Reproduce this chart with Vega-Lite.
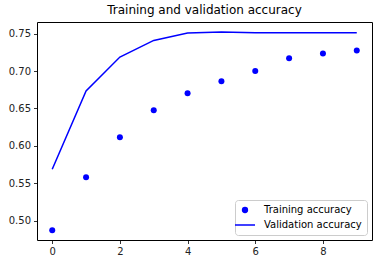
{
  "$schema": "https://vega.github.io/schema/vega-lite/v6.json",
  "width": 335,
  "height": 218,
  "autosize": "none",
  "padding": {"left": 37, "top": 22, "right": 9, "bottom": 24},
  "background": "white",
  "title": {"text": "Training and validation accuracy", "fontSize": 12, "font": "DejaVu Sans", "fontWeight": "normal", "color": "black", "offset": 5},
  "config": {
    "view": {"stroke": "black", "strokeWidth": 1},
    "axis": {"grid": false, "domain": false, "tickColor": "black", "tickSize": 3.5, "tickWidth": 0.8, "labelFont": "DejaVu Sans", "labelFontSize": 10, "labelColor": "#222222", "labelPadding": 3, "title": null}
  },
  "data": {"values": [
    {"epoch": 0, "series": "Training accuracy", "acc": 0.4872},
    {"epoch": 1, "series": "Training accuracy", "acc": 0.558},
    {"epoch": 2, "series": "Training accuracy", "acc": 0.6115},
    {"epoch": 3, "series": "Training accuracy", "acc": 0.6476},
    {"epoch": 4, "series": "Training accuracy", "acc": 0.6703},
    {"epoch": 5, "series": "Training accuracy", "acc": 0.6864},
    {"epoch": 6, "series": "Training accuracy", "acc": 0.700},
    {"epoch": 7, "series": "Training accuracy", "acc": 0.717},
    {"epoch": 8, "series": "Training accuracy", "acc": 0.7235},
    {"epoch": 9, "series": "Training accuracy", "acc": 0.7275},
    {"epoch": 0, "series": "Validation accuracy", "acc": 0.5687},
    {"epoch": 1, "series": "Validation accuracy", "acc": 0.6734},
    {"epoch": 2, "series": "Validation accuracy", "acc": 0.7188},
    {"epoch": 3, "series": "Validation accuracy", "acc": 0.741},
    {"epoch": 4, "series": "Validation accuracy", "acc": 0.7509},
    {"epoch": 5, "series": "Validation accuracy", "acc": 0.7522},
    {"epoch": 6, "series": "Validation accuracy", "acc": 0.7512},
    {"epoch": 7, "series": "Validation accuracy", "acc": 0.7511},
    {"epoch": 8, "series": "Validation accuracy", "acc": 0.7511},
    {"epoch": 9, "series": "Validation accuracy", "acc": 0.7511}
  ]},
  "encoding": {
    "x": {"field": "epoch", "type": "quantitative", "scale": {"domain": [-0.45, 9.45], "nice": false, "zero": false}, "axis": {"values": [0, 2, 4, 6, 8], "format": "d"}},
    "y": {"field": "acc", "type": "quantitative", "scale": {"domain": [0.4742, 0.7656], "nice": false, "zero": false}, "axis": {"values": [0.5, 0.55, 0.6, 0.65, 0.7, 0.75], "format": ".2f"}},
    "color": {"field": "series", "type": "nominal", "scale": {"domain": ["Training accuracy", "Validation accuracy"], "range": ["#0000ff", "#0000ff"]},
      "legend": {"title": null, "orient": "bottom-right", "offset": 5, "padding": 5, "strokeColor": "#cccccc", "fillColor": "rgba(255,255,255,0.8)", "cornerRadius": 3, "labelFont": "DejaVu Sans", "labelFontSize": 10, "labelColor": "black", "rowPadding": 5, "labelOffset": 14,
        "encode": {"symbols": {"update": {"shape": {"signal": "datum.value === 'Training accuracy' ? 'circle' : 'stroke'"}, "size": {"signal": "datum.value === 'Training accuracy' ? 40 : 400"}, "fill": {"value": "#0000ff"}, "stroke": {"value": "#0000ff"}, "strokeWidth": {"signal": "datum.value === 'Training accuracy' ? 0 : 1.5"}, "opacity": {"value": 1}}}}}}
  },
  "layer": [
    {"transform": [{"filter": "datum.series === 'Training accuracy'"}], "mark": {"type": "point", "filled": true, "size": 36, "opacity": 1}},
    {"transform": [{"filter": "datum.series === 'Validation accuracy'"}], "mark": {"type": "line", "strokeWidth": 1.5}}
  ]
}
